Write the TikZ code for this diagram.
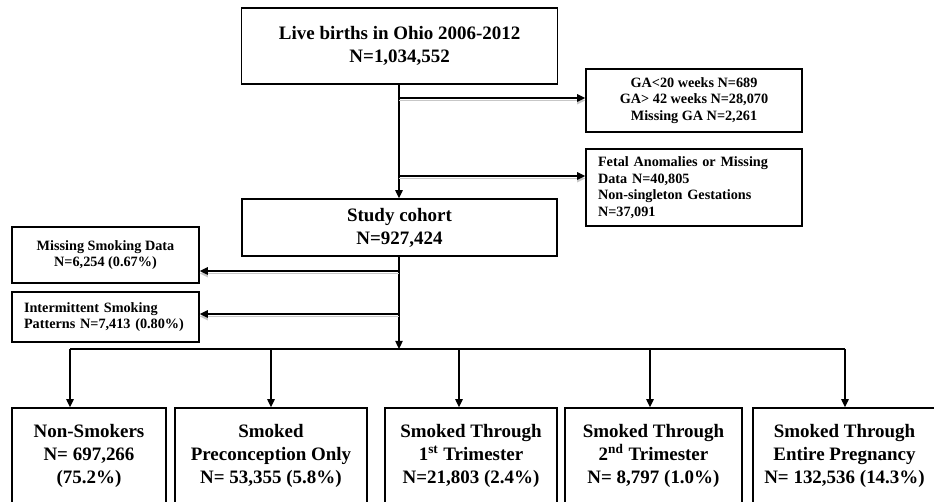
\documentclass[tikz,border=0pt]{standalone}
\usepackage{fontspec}
\setmainfont{Liberation Serif}
\usepackage{tikz}
\usetikzlibrary{arrows.meta,positioning}

\begin{document}
\begin{tikzpicture}[
    x=0.02cm, y=-0.02cm,
    box/.style={draw, line width=0.8pt, align=center, inner sep=0pt,
                font=\fontsize{10.8}{13}\selectfont\bfseries},
    sbox/.style={box, font=\fontsize{8.1}{9.4}\selectfont\bfseries},
    arr/.style={-{Triangle[length=4.6pt,width=4.2pt]}, line width=0.75pt},
    shd/.style={arr, preaction={draw=black!22, line width=0.9pt,
                transform canvas={yshift=-0.05cm}}}
  ]
    \clip (0,0) rectangle (934,502);
    \node[box, minimum width=6.32cm, minimum height=1.52cm] (births) at (399.7,46)
      {Live births in Ohio 2006-2012\\N=1,034,552};
    \node[sbox, minimum width=4.32cm, minimum height=1.26cm] (ga) at (694,100.5)
      {GA\textless20 weeks N=689\\GA\textgreater{} 42 weeks N=28,070\\Missing GA N=2,261};
    \node[sbox, minimum width=4.32cm, minimum height=1.54cm, align=left,
          text width=3.84cm] (fetal) at (694,187.5)
      {Fetal Anomalies or Missing\\Data N=40,805\\Non-singleton Gestations\\N=37,091};
    \node[box, minimum width=6.3cm, minimum height=1.14cm] (study) at (399.5,227.5)
      {Study cohort\\N=927,424};
    \node[sbox, minimum width=3.74cm, minimum height=1.12cm] (missing) at (105.5,255)
      {Missing Smoking Data\\N=6,254 (0.67\%)};
    \node[sbox, minimum width=3.74cm, minimum height=1.0cm, align=left,
          text width=3.26cm] (interm) at (105.5,317)
      {Intermittent Smoking\\Patterns N=7,413 (0.80\%)};

    % exposure groups
    \node[box, minimum width=3.08cm, minimum height=1.92cm] (g1) at (89,456)
      {Non-Smokers\\N= 697,266\\(75.2\%)};
    \node[box, minimum width=3.84cm, minimum height=1.92cm] (g2) at (271,456)
      {Smoked\\Preconception Only\\N= 53,355 (5.8\%)};
    \node[box, minimum width=3.44cm, minimum height=1.92cm] (g3) at (471,456)
      {Smoked Through\\1\textsuperscript{st} Trimester\\N=21,803 (2.4\%)};
    \node[box, minimum width=3.54cm, minimum height=1.92cm] (g4) at (653.5,456)
      {Smoked Through\\2\textsuperscript{nd} Trimester\\N= 8,797 (1.0\%)};
    \node[box, minimum width=3.66cm, minimum height=1.92cm] (g5) at (844.5,456)
      {Smoked Through\\Entire Pregnancy\\N= 132,536 (14.3\%)};

    \coordinate (j1) at (399,98);
    \coordinate (j2) at (399,176);
    \coordinate (j3) at (399,271);
    \coordinate (j4) at (399,314);
    \coordinate (bus) at (399,349);
    \draw[arr] (births.south -| j1) -- (study.north -| j1);
    \draw[shd] (j1) -- (j1 -| ga.west);
    \draw[shd] (j2) -- (j2 -| fetal.west);
    \draw[arr] (study.south -| bus) -- (bus);
    \draw[shd] (j3) -- (j3 -| missing.east);
    \draw[shd] (j4) -- (j4 -| interm.east);
    \draw[line width=0.75pt] (70,349) -- (845,349);
    \foreach \g/\x in {g1/70, g2/271, g3/459, g4/650, g5/845}
      \draw[arr] (\x,349) -- (\x,349 |- \g.north);
\end{tikzpicture}
\end{document}
